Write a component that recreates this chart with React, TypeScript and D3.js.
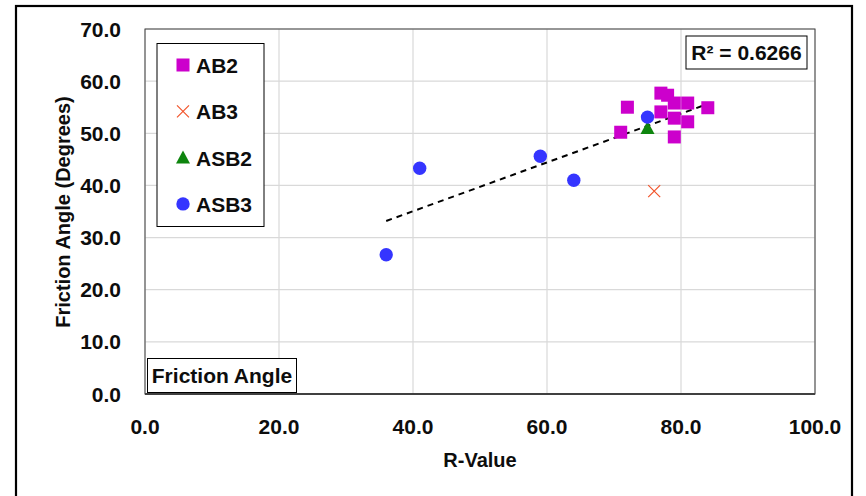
import React from "react";
import * as d3 from "d3";

// ---- Data ----
const ab2X = [77, 78, 77, 79, 79, 79, 81, 81, 84, 72, 71];
const ab2Y = [57.7, 57.3, 54.1, 55.8, 52.9, 49.3, 55.8, 52.2, 54.9, 55.0, 50.2];
const ab3X = [76];
const ab3Y = [38.9];
const asb2X = [75];
const asb2Y = [51.0];
const asb3X = [36, 41, 59, 64, 75];
const asb3Y = [26.7, 43.3, 45.6, 41.0, 53.1];

const xTicks = [0, 20, 40, 60, 80, 100];
const yTicks = [0, 10, 20, 30, 40, 50, 60, 70];
const legendLabels = ["AB2", "AB3", "ASB2", "ASB3"];
const r2Label = "R² = 0.6266";
const xTitle = "R-Value";
const yTitle = "Friction Angle (Degrees)";
const chartLabel = "Friction Angle";

const W = 866;
const H = 496;
const M = { left: 145, right: 815, top: 29, bottom: 394 };
const FONT = "'Liberation Sans', Arial, sans-serif";

const C_AB2 = "#CC00CC";
const C_AB3 = "#F2552C";
const C_ASB2 = "#0E850E";
const C_ASB3 = "#3535FF";

export default function App() {
  const x = d3.scaleLinear().domain([0, 100]).range([M.left, M.right]);
  const y = d3.scaleLinear().domain([0, 70]).range([M.bottom, M.top]);

  const allX = [...ab2X, ...ab3X, ...asb2X, ...asb3X];
  const allY = [...ab2Y, ...ab3Y, ...asb2Y, ...asb3Y];
  const mx = d3.mean(allX) as number;
  const my = d3.mean(allY) as number;
  let sxy = 0, sxx = 0;
  allX.forEach((v, i) => {
    sxy += (v - mx) * (allY[i] - my);
    sxx += (v - mx) * (v - mx);
  });
  const slope = sxy / sxx;
  const icpt = my - slope * mx;
  const [x0, x1] = d3.extent(allX) as [number, number];
  const trend = d3.line<number>().x((v) => x(v)).y((v) => y(slope * v + icpt));

  const sq = 13;
  const square = (cx: number, cy: number, k: string) => (
    <rect key={k} x={cx - sq / 2} y={cy - sq / 2} width={sq} height={sq} fill={C_AB2} />
  );
  const cross = (cx: number, cy: number, k: string) => (
    <path key={k} d={`M${cx - 6},${cy - 6}L${cx + 6},${cy + 6}M${cx - 6},${cy + 6}L${cx + 6},${cy - 6}`}
      stroke={C_AB3} strokeWidth={1.2} fill="none" />
  );
  const tri = (cx: number, cy: number, k: string) => (
    <path key={k} d={`M${cx},${cy - 7}L${cx + 7},${cy + 6}L${cx - 7},${cy + 6}Z`} fill={C_ASB2} />
  );
  const circ = (cx: number, cy: number, k: string) => (
    <circle key={k} cx={cx} cy={cy} r={6.7} fill={C_ASB3} />
  );
  const markers = [square, cross, tri, circ];

  return (
    <svg width={W} height={H} style={{ position: "absolute", left: 0, top: 0, display: "block" }}
      fontFamily={FONT} fontWeight="bold">
      <rect x={0} y={0} width={W} height={H} fill="#fff" />
      <rect x={16} y={6} width={836} height={530} fill="none" stroke="#000" strokeWidth={2.2} />

      {/* gridlines */}
      {xTicks.map((t) => (
        <line key={"gx" + t} x1={x(t)} x2={x(t)} y1={M.top} y2={M.bottom} stroke="#d9d9d9" strokeWidth={1.2} />
      ))}
      {yTicks.map((t) => (
        <line key={"gy" + t} x1={M.left} x2={M.right} y1={y(t)} y2={y(t)} stroke="#d9d9d9" strokeWidth={1.2} />
      ))}
      <rect x={M.left} y={M.top} width={M.right - M.left} height={M.bottom - M.top}
        fill="none" stroke="#404040" strokeWidth={1} />
      <line x1={M.left} x2={M.right} y1={M.bottom} y2={M.bottom} stroke="#404040" strokeWidth={2} />

      {/* tick labels */}
      {xTicks.map((t) => (
        <text key={"tx" + t} x={x(t)} y={434} textAnchor="middle" fontSize={21} fill="#0d0d0d">
          {t.toFixed(1)}
        </text>
      ))}
      {yTicks.map((t) => (
        <text key={"ty" + t} x={121} y={y(t)} dy="0.36em" textAnchor="end" fontSize={21} fill="#0d0d0d">
          {t.toFixed(1)}
        </text>
      ))}

      {/* axis titles */}
      <text x={480} y={467} textAnchor="middle" fontSize={20} fill="#0d0d0d">{xTitle}</text>
      <text transform={`translate(70,${212}) rotate(-90)`} textAnchor="middle" fontSize={20} fill="#0d0d0d">
        {yTitle}
      </text>

      {/* trendline */}
      <path d={trend([x0, x1]) as string} fill="none" stroke="#000" strokeWidth={2} strokeDasharray="6,5" />

      {/* points */}
      {ab2X.map((v, i) => square(x(v), y(ab2Y[i]), "a2" + i))}
      {ab3X.map((v, i) => cross(x(v), y(ab3Y[i]), "a3" + i))}
      {asb2X.map((v, i) => tri(x(v), y(asb2Y[i]), "s2" + i))}
      {asb3X.map((v, i) => circ(x(v), y(asb3Y[i]), "s3" + i))}

      {/* legend */}
      <rect x={157} y={43.5} width={107} height={183} fill="#fff" stroke="#000" strokeWidth={1} />
      {legendLabels.map((l, i) => {
        const cy = 65 + i * 46.3;
        return (
          <g key={"lg" + l}>
            {markers[i](183, cy, "lm" + i)}
            <text x={196} y={cy + 8} fontSize={21} fill="#0d0d0d">{l}</text>
          </g>
        );
      })}

      {/* R2 label */}
      <rect x={686} y={36} width={121} height={33} fill="#fff" stroke="#000" strokeWidth={1} />
      <text x={746.5} y={60} textAnchor="middle" fontSize={21} fill="#0d0d0d">{r2Label}</text>

      {/* chart label */}
      <rect x={147.5} y={358.5} width={149} height={34} fill="#fff" stroke="#000" strokeWidth={1} />
      <text x={222} y={383} textAnchor="middle" fontSize={21} fill="#0d0d0d">{chartLabel}</text>
    </svg>
  );
}
